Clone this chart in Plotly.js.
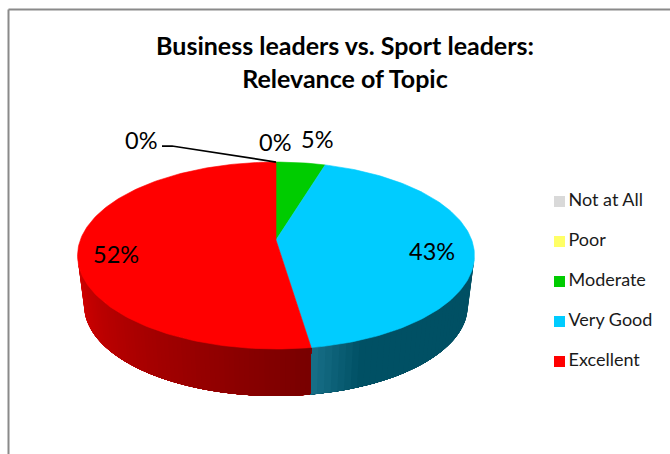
<!DOCTYPE html>
<html>
<head>
<meta charset="utf-8">
<script src="https://cdn.plot.ly/plotly-3.0.1.min.js"></script>
<style>html,body{margin:0;padding:0;background:#fff}#chart{width:670px;height:454px}</style>
</head>
<body>
<div id="chart"></div>
<script>
var categories = ["Not at All", "Poor", "Moderate", "Very Good", "Excellent"];
var percents = [0, 0, 4.7, 42.9, 52.4];
var sliceColors = ["#D9D9D9", "#FFFF66", "#00CC00", "#00CCFF", "#FF0000"];
var chartTitle = "Business leaders vs. Sport leaders:<br>Relevance of Topic";

// Tilted-disc projection of the pie on pixel-scaled axes
var disc = {cx: 276, cy: 240, a: 195.7, b: 90.9, k: 0.166};
var base = {cx: 276, cy: 290.6, a: 189.2, b: 87.9, k: 0.166};
function project(p, deg) {
  var t = deg * Math.PI / 180, d = 1 + p.k * Math.cos(t);
  return [p.cx + p.a * Math.sin(t) / d, p.cy - p.b * Math.cos(t) / d];
}
function mix(c1, c2, f) {
  var c = c1.map(function (v, i) { return Math.round(v + (c2[i] - v) * f); });
  return "rgb(" + c.join(",") + ")";
}
var traces = [];
function poly(pts, color, lineWidth) {
  traces.push({
    type: "scatter", mode: "lines", fill: "toself", fillcolor: color,
    x: pts.map(function (p) { return p[0]; }), y: pts.map(function (p) { return p[1]; }),
    line: {color: color, width: lineWidth}, showlegend: false, hoverinfo: "skip"
  });
}
// cumulative angles
var angles = [0];
percents.forEach(function (v, i) { angles.push(angles[i] + v * 3.6); });
var edgeDeg = 99.6, seamDeg = angles[4], leftDeg = 260.4;

// Side wall: each shaded strip runs to the far end of the wall and the next strip paints over it
function wall(from, to, n, colorAt) {
  for (var i = 0; i < n; i++) {
    var a = from + (to - from) * i / n;
    var top = [], bottom = [];
    for (var j = 0; j <= 24; j++) {
      var d = a + (to - a) * j / 24;
      top.push(project(disc, d));
      bottom.unshift(project(base, d));
    }
    var pts = top.concat(bottom);
    pts.push(top[0]);
    poly(pts, colorAt((i + 0.5) / n), 0);
  }
}
wall(edgeDeg, seamDeg, 40, function (f) {
  var g = Math.max(0, (f - 0.82) / 0.18);
  return mix([0, 80, 100], [24, 112, 136], g);
});
wall(leftDeg, seamDeg, 70, function (f) {
  return mix([214, 0, 0], [120, 0, 0], f);
});
// Top face
percents.forEach(function (v, i) {
  if (v <= 0) return;
  var pts = [[disc.cx, disc.cy]];
  var n = Math.ceil(v * 3);
  for (var j = 0; j <= n; j++) pts.push(project(disc, angles[i] + (angles[i + 1] - angles[i]) * j / n));
  pts.push([disc.cx, disc.cy]);
  poly(pts, sliceColors[i], 0.6);
});
// Leader line for the first zero label
var rimTop = project(disc, 0);
traces.push({type: "scatter", mode: "lines", x: [162, 172, rimTop[0]], y: [146, 146, rimTop[1]],
  line: {color: "#000", width: 1.75}, showlegend: false, hoverinfo: "skip"});
// Legend
categories.forEach(function (name, i) {
  traces.push({
    type: "scatter", mode: "markers+text", x: [559.5], y: [201.5 + 40 * i], name: name,
    text: ["\u200A" + name], textposition: "middle right",
    textfont: {family: "Lato", size: 18, color: "#1a1a1a"},
    marker: {symbol: "square", size: 11, color: sliceColors[i]},
    showlegend: false, hoverinfo: "name", cliponaxis: false
  });
});
var labelSpots = [[141, 140], [275, 142], [317, 138.5], [432, 251], [116, 254]];
var annotations = percents.map(function (v, i) {
  return {x: labelSpots[i][0], y: labelSpots[i][1], xref: "x", yref: "y", showarrow: false,
    text: Math.round(v) + "%", font: {family: "Lato", size: 23.5, color: "#000"}};
});
var frame = {color: "#8a8a8a", width: 2};
var layout = {
  width: 670, height: 454, margin: {l: 0, r: 0, t: 0, b: 0},
  paper_bgcolor: "#fff", plot_bgcolor: "#fff", showlegend: false,
  title: {text: chartTitle, x: 345 / 670, xanchor: "center", y: 1 - 55 / 454, yanchor: "top",
    font: {family: "Lato", size: 25, color: "#000", weight: 700}},
  xaxis: {range: [0, 670], visible: false, fixedrange: true},
  yaxis: {range: [454, 0], visible: false, fixedrange: true},
  annotations: annotations,
  shapes: [
    {type: "line", xref: "x", yref: "y", x0: 8.5, x1: 670, y0: 9.5, y1: 9.5, line: frame},
    {type: "line", xref: "x", yref: "y", x0: 8.5, x1: 8.5, y0: 9.5, y1: 454, line: frame}
  ]
};
Plotly.newPlot("chart", traces, layout, {displayModeBar: false, staticPlot: true});
</script>
</body>
</html>
